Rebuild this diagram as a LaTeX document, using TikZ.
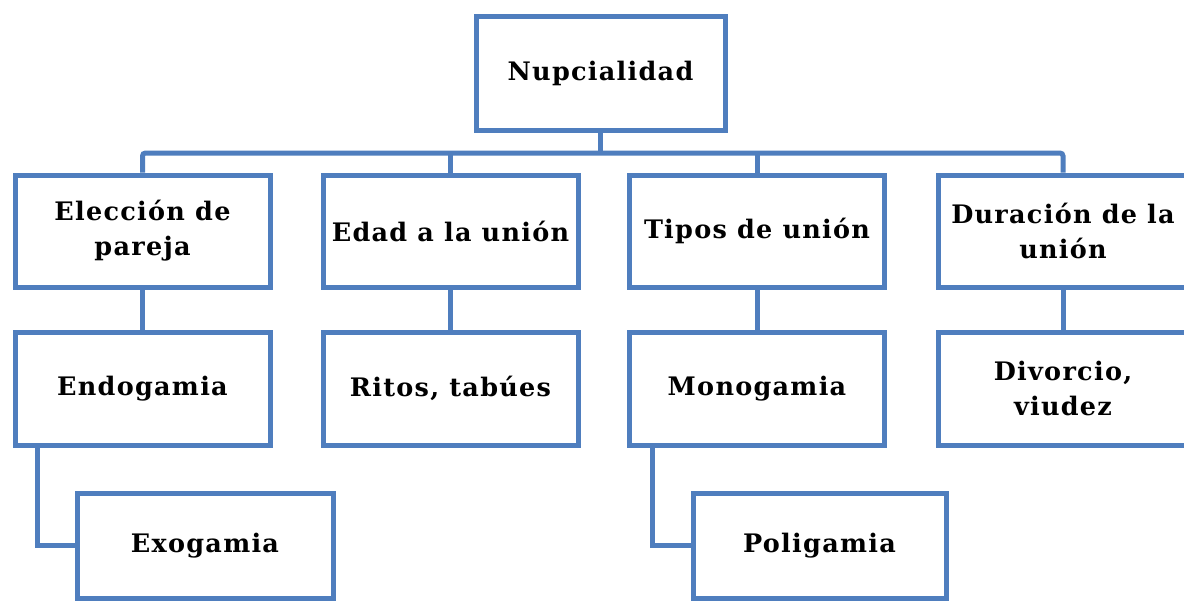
\documentclass[tikz,border=0pt]{standalone}
\usepackage{fontspec}
\newfontfamily\boxfont[LetterSpace=5]{DejaVu Serif}
\definecolor{boxblue}{HTML}{4F7EBE}
\tikzset{
  boxnode/.style={draw=boxblue, line width=5pt, fill=white, minimum width=255pt,
    minimum height=112pt, inner sep=0pt, align=center,
    font=\boxfont\bfseries\fontsize{25.5}{35}\selectfont, text=black},
  link/.style={draw=boxblue, line width=5pt}
}
\begin{document}
\begin{tikzpicture}[x=1pt,y=-1pt]
\useasboundingbox (0,0) rectangle (1184,602);
\fill[white] (0,0) rectangle (1184,602);
% root
\node[boxnode, minimum width=249pt, minimum height=113pt] (root) at (600.5,73.5) {Nupcialidad};
% level 1
\node[boxnode] (e1) at (142.5,231) {Elección de\\pareja};
\node[boxnode] (e2) at (450.5,231) {Edad a la unión};
\node[boxnode] (e3) at (757,231) {Tipos de unión};
\node[boxnode, minimum width=250pt] (e4) at (1063,231) {Duración de la\\unión};
% level 2
\node[boxnode, minimum height=113pt] (f1) at (142.5,388.5) {Endogamia};
\node[boxnode, minimum height=113pt] (f2) at (450.5,388.5) {Ritos, tabúes};
\node[boxnode, minimum height=113pt] (f3) at (757,388.5) {Monogamia};
\node[boxnode, minimum height=113pt, minimum width=250pt] (f4) at (1063,388.5) {Divorcio,\\viudez};
% level 3
\node[boxnode, minimum height=105pt, minimum width=256pt] (g1) at (205,545.5) {Exogamia};
\node[boxnode, minimum height=105pt, minimum width=253pt] (g3) at (819.5,545.5) {Poligamia};
% bus
\coordinate (bus) at (600,153);
\draw[link] (root.south) -- (root.south |- bus);
\draw[link, rounded corners=3pt] (e1.north) -- (e1.north |- bus) -- (e4.north |- bus) -- (e4.north);
\draw[link] (e2.north) -- (e2.north |- bus);
\draw[link] (e3.north) -- (e3.north |- bus);
% level 1 -> level 2
\draw[link] (e1.south) -- (f1.north);
\draw[link] (e2.south) -- (f2.north);
\draw[link] (e3.south) -- (f3.north);
\draw[link] (e4.south) -- (f4.north);
% level 2 -> level 3
\draw[link] ([xshift=25pt]f1.south west) |- (g1.west);
\draw[link] ([xshift=25pt]f3.south west) |- (g3.west);
\end{tikzpicture}
\end{document}
